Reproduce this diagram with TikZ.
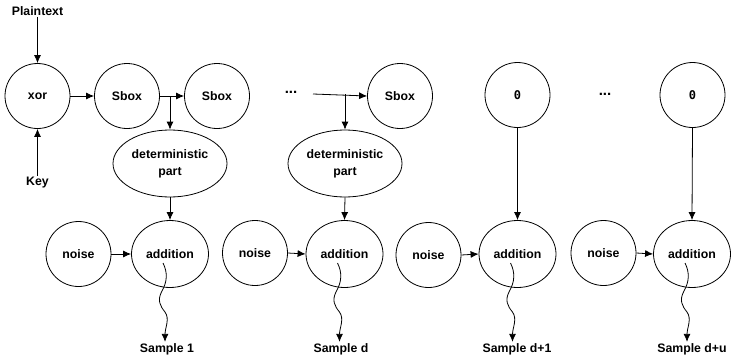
\documentclass[tikz,border=0pt]{standalone}
\usepackage{fontspec}
\setmainfont{Liberation Sans}
\newfontfamily\zerofont{DejaVu Sans Mono}
\usetikzlibrary{arrows.meta,shapes.geometric,calc}
\begin{document}
\begin{tikzpicture}[x=1pt,y=-1pt,
  font=\fontsize{12.3}{14}\selectfont\bfseries,
  line width=0.8pt,
  circ/.style={draw,circle,minimum size=65pt,inner sep=0pt},
  addn/.style={draw,ellipse,minimum width=77pt,minimum height=67pt,inner sep=0pt},
  detp/.style={draw,ellipse,minimum width=114pt,minimum height=67pt,inner sep=0pt,
     label={[align=center,font=\fontsize{12.3}{17}\selectfont\bfseries]center:deterministic\\part}},
  lbl/.style={inner sep=1pt},
  dotsty/.style={inner sep=1pt,font=\fontsize{15}{16}\selectfont\bfseries},
  arr/.style={-{Latex[length=8pt,width=7pt]}},
  wavy/.style={arr}]
\useasboundingbox (0,0) rectangle (736,359);
% top row
\node[lbl] (pt) at (37.5,11) {Plaintext};
\node[lbl] (key) at (37.5,183) {Key};
\node[circ] (xor) at (37.5,96) {xor};
\node[circ] (sb1) at (127,96) {Sbox};
\node[circ] (sb2) at (217,96) {Sbox};
\node[dotsty] (dots1) at (291,92) {...};
\coordinate (c1) at (313,94);
\node[circ] (sb3) at (400,96) {Sbox};
\node[circ] (z1) at (517.5,95) {\zerofont\fontsize{12}{13}\selectfont 0};
\node[dotsty] (dots2) at (605,94) {...};
\node[circ] (z2) at (692.5,95) {\zerofont\fontsize{12}{13}\selectfont 0};
\node[detp] (det1) at (170,163.5) {};
\node[detp] (det2) at (345,163.5) {};
% bottom row
\node[circ] (n1) at (78.5,254) {noise};
\node[addn] (a1) at (170,254) {addition};
\node[circ] (n2) at (255,253) {noise};
\node[addn] (a2) at (344.5,254) {addition};
\node[circ] (n3) at (428.5,255) {noise};
\node[addn] (a3) at (517.5,254) {addition};
\node[circ] (n4) at (603.5,253) {noise};
\node[addn] (a4) at (692,254) {addition};
\node[lbl] (s1) at (167,349) {Sample 1};
\node[lbl] (s2) at (341,349) {Sample d};
\node[lbl] (s3) at (517,349) {Sample d+1};
\node[lbl] (s4) at (692,349) {Sample d+u};
% connectors
\draw[arr] (pt.south) -- (xor.north);
\draw[arr] (key.north) -- (xor.south);
\draw[arr] (xor.east) -- (sb1.west);
\draw[arr] (sb1.east) -- (sb2.west);
\draw[arr] (det1.north |- sb1.east) -- (det1.north);
\draw[arr] (c1) -- (sb3.west);
\draw[arr] (det2.north |- c1) -- (det2.north);
\draw[arr] (det1.south) -- (a1.north);
\draw[arr] (det2.south) -- (a2.north);
\draw[arr] (z1.south) -- (a3.north);
\draw[arr] (z2.south) -- (a4.north);
\draw[arr] (n1.east) -- (a1.west);
\draw[arr] (n2.east) -- (a2.west);
\draw[arr] (n3.east) -- (a3.west);
\draw[arr] (n4.east) -- (a4.west);
% wavy outputs
\foreach \a/\s in {a1/s1,a2/s2,a3/s3,a4/s4}{
  \draw[wavy] ([shift={(-7,9)}]\a.center)
     .. controls +(5,10) and +(5,-9) .. ++(-1,28)
     .. controls +(-5,9) and +(-5,-6) .. ++(3,21)
     .. controls +(5,7) and +(0,-14) .. (\s.north -| {$(\a.center)+(-5,0)$});
}
\end{tikzpicture}
\end{document}
